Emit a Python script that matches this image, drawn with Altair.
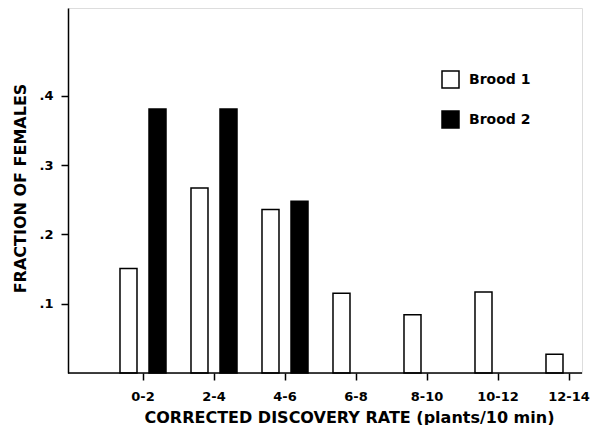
import altair as alt
import pandas as pd

categories = ["0-2", "2-4", "4-6", "6-8", "8-10", "10-12", "12-14"]
brood1 = [0.151, 0.267, 0.236, 0.115, 0.084, 0.117, 0.027]
brood2_categories = ["0-2", "2-4", "4-6"]
brood2 = [0.381, 0.381, 0.248]
y_ticks = [0.1, 0.2, 0.3, 0.4]

rows = [{"rate": c, "brood": "Brood 1", "fraction": v} for c, v in zip(categories, brood1)]
rows += [{"rate": c, "brood": "Brood 2", "fraction": v} for c, v in zip(brood2_categories, brood2)]
df = pd.DataFrame(rows)

FONT = "DejaVu Sans"
W, H = 514, 365

bars = alt.Chart(df).mark_bar(stroke="black", strokeWidth=1.5).encode(
    x=alt.X(
        "rate:N",
        sort=categories,
        scale=alt.Scale(domain=categories, range=[39.5, 536.5], paddingInner=0.352, paddingOuter=0.176),
        axis=alt.Axis(
            title="CORRECTED DISCOVERY RATE  (plants/10 min)",
            domain=False,
            labelAngle=0,
            labelFont=FONT,
            labelFontSize=13,
            labelFontWeight="bold",
            labelColor="black",
            labelPadding=10,
            tickColor="black",
            tickSize=7,
            tickWidth=1.5,
            titleFont=FONT,
            titleFontSize=16,
            titleFontWeight="bold",
            titleColor="black",
            titleX=281,
            titleY=49,
            titleBaseline="alphabetic",
        ),
    ),
    xOffset=alt.XOffset(
        "brood:N",
        scale=alt.Scale(domain=["Brood 1", "Brood 2"], paddingInner=0.414, paddingOuter=0),
    ),
    y=alt.Y(
        "fraction:Q",
        scale=alt.Scale(domain=[0, 0.527], nice=False, zero=True),
        axis=alt.Axis(
            title="FRACTION OF FEMALES",
            values=y_ticks,
            format=".1f",
            labelExpr="replace(datum.label, '0.', '.')",
            grid=False,
            domainColor="black",
            domainWidth=1.5,
            labelFont=FONT,
            labelFontSize=13,
            labelFontWeight="bold",
            labelColor="black",
            labelPadding=8,
            tickColor="black",
            tickSize=7,
            tickWidth=1.5,
            titleFont=FONT,
            titleFontSize=16,
            titleFontWeight="bold",
            titleColor="black",
            titleX=-40,
            titleY=180,
        ),
    ),
    fill=alt.Fill(
        "brood:N",
        scale=alt.Scale(domain=["Brood 1", "Brood 2"], range=["white", "black"]),
        legend=alt.Legend(
            title=None,
            orient="none",
            legendX=373,
            legendY=62,
            padding=0,
            symbolType="square",
            symbolSize=289,
            symbolStrokeColor="black",
            symbolStrokeWidth=1.5,
            labelFont=FONT,
            labelFontSize=14,
            labelFontWeight="bold",
            labelColor="black",
            labelOffset=9,
            rowPadding=17,
        ),
    ),
)

baseline = alt.Chart(pd.DataFrame({"zero": [0]})).mark_rule(color="black", strokeWidth=1.5).encode(
    y=alt.Y("zero:Q"),
    x=alt.value(0),
    x2=alt.value(W),
)

chart = alt.layer(bars, baseline).properties(
    width=W,
    height=H,
    autosize=alt.AutoSizeParams(type="none"),
    padding={"left": 60, "top": 0, "right": 13, "bottom": 52},
).configure_view(stroke=None).configure(background="white")

chart.save("out.html", embed_options={"renderer": "svg", "actions": False})
